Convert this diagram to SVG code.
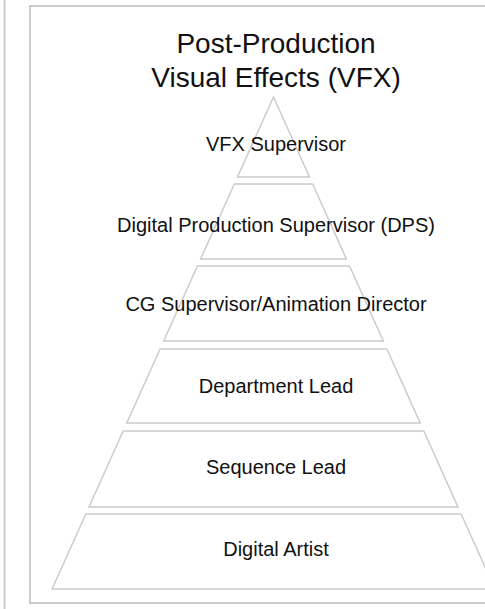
<svg xmlns="http://www.w3.org/2000/svg" width="485" height="609" viewBox="0 0 485 609">
<style>
.frame{fill:none;stroke:#cccccc;stroke-width:2}
.tier{fill:none;stroke:#cccccc;stroke-width:1.5;stroke-linejoin:miter}
.lbl{font-family:"Liberation Sans",Arial,Helvetica,sans-serif;font-size:20px;fill:#111;text-anchor:middle}
.title{font-family:"Liberation Sans",Arial,Helvetica,sans-serif;font-size:28px;fill:#111;text-anchor:middle}
</style>
<rect width="485" height="609" fill="#ffffff"/>
<line class="frame" x1="4.5" y1="0" x2="4.5" y2="609"/>
<path class="frame" d="M490 6 H30 V603 H490"/>
<g id="title">
<text class="title" x="276" y="53">Post-Production</text>
<text class="title" x="276" y="87">Visual Effects (VFX)</text>
</g>
<g id="connectors"></g>
<g id="vfx-supervisor">
<polygon class="tier" points="273.5,97 309.5,177 237.5,177"/>
<text class="lbl" x="276" y="151">VFX Supervisor</text>
</g>
<g id="dps">
<polygon class="tier" points="234.35,184 312.65,184 346.4,259 200.6,259"/>
<text class="lbl" x="276" y="232">Digital Production Supervisor (DPS)</text>
</g>
<g id="cg-supervisor">
<polygon class="tier" points="197.45,266 349.55,266 383.3,341 163.7,341"/>
<text class="lbl" x="276" y="311">CG Supervisor/Animation Director</text>
</g>
<g id="department-lead">
<polygon class="tier" points="160.1,349 386.9,349 420.2,423 126.8,423"/>
<text class="lbl" x="276" y="393">Department Lead</text>
</g>
<g id="sequence-lead">
<polygon class="tier" points="123.2,431 423.8,431 458,507 89,507"/>
<text class="lbl" x="276" y="474">Sequence Lead</text>
</g>
<g id="digital-artist">
<polygon class="tier" points="85.85,514 461.15,514 494.9,589 52.1,589"/>
<text class="lbl" x="276" y="556">Digital Artist</text>
</g>
</svg>
